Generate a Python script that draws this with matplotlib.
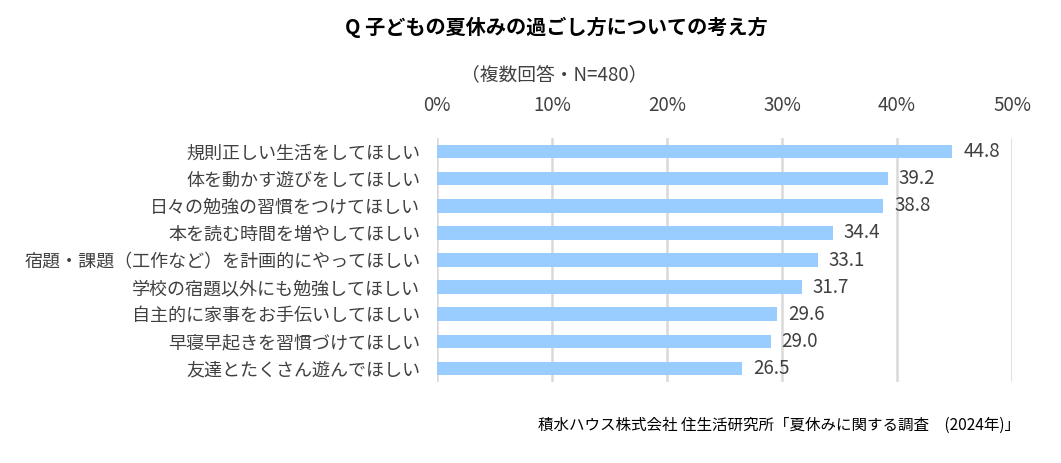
import numpy as np
import matplotlib
matplotlib.use('Agg')
import matplotlib.pyplot as plt

plt.rcParams['font.family'] = ['Noto Sans CJK JP', 'DejaVu Sans']

categories = [
    '規則正しい生活をしてほしい',
    '体を動かす遊びをしてほしい',
    '日々の勉強の習慣をつけてほしい',
    '本を読む時間を増やしてほしい',
    '宿題・課題（工作など）を計画的にやってほしい',
    '学校の宿題以外にも勉強してほしい',
    '自主的に家事をお手伝いしてほしい',
    '早寝早起きを習慣づけてほしい',
    '友達とたくさん遊んでほしい',
]
values = [44.8, 39.2, 38.8, 34.4, 33.1, 31.7, 29.6, 29.0, 26.5]
xticks = [0, 10, 20, 30, 40, 50]
xtick_labels = ['0%', '10%', '20%', '30%', '40%', '50%']

text_col = '#404040'

fig = plt.figure(figsize=(10.61, 4.63), dpi=100)
ax = fig.add_axes([437 / 1061, 1 - 382 / 463, (1012 - 437) / 1061, (382 - 138) / 463])

y = np.arange(len(categories))
ax.barh(y, values, height=0.5, color='#99CCFF', zorder=2)

for yi, v in zip(y, values):
    ax.annotate(f'{v:.1f}', (v, yi), xytext=(8, 0), textcoords='offset points',
                va='center', ha='left', fontsize=13.5, color=text_col)

ax.set_xlim(0, 50)
ax.set_ylim(len(categories) - 0.5, -0.5)
ax.set_xticks(xticks)
ax.set_xticklabels(xtick_labels, fontsize=13.5, color=text_col)
ax.xaxis.tick_top()
ax.tick_params(axis='x', length=0, pad=16)
ax.set_yticks(y)
ax.set_yticklabels(categories, fontsize=13, color=text_col)
ax.tick_params(axis='y', length=0, pad=12)
ax.grid(axis='x', color='#D9D9D9', linewidth=1.8, zorder=0)
for s in ax.spines.values():
    s.set_visible(False)

fig.text(556 / 1061, 1 - 27 / 463, 'Q 子どもの夏休みの過ごし方についての考え方',
         ha='center', va='center', fontsize=14.5, fontweight='bold', color='#000000')
fig.text(554 / 1061, 1 - 75 / 463, '（複数回答・N=480）',
         ha='center', va='center', fontsize=13.5, color=text_col)
fig.text(1020 / 1061, 1 - 425 / 463, '積水ハウス株式会社 住生活研究所「夏休みに関する調査\u3000(2024年)」',
         ha='right', va='center', fontsize=11.2, color='#000000')

fig.savefig('out.png', dpi=100, facecolor='white')
